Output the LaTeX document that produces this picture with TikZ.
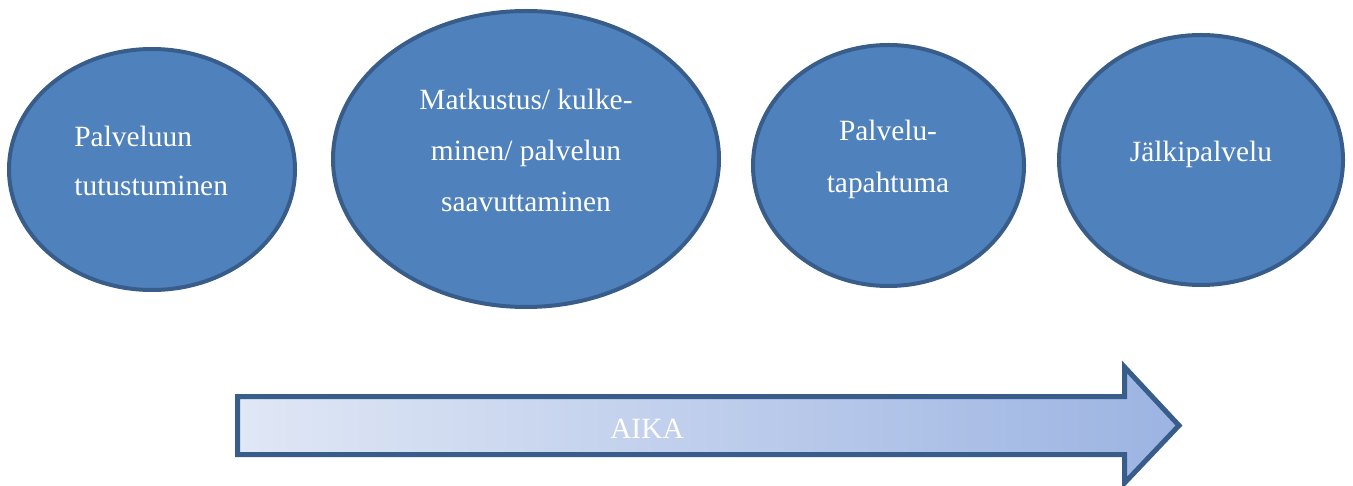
\documentclass[tikz,border=0pt]{standalone}
\usepackage{fontspec}
\setmainfont{Liberation Serif}
\usepackage{tikz}
\usetikzlibrary{shapes.geometric}
\definecolor{cfill}{HTML}{4F81BD}
\definecolor{cedge}{HTML}{385D8A}
\definecolor{clight}{HTML}{E0E7F5}
\definecolor{cdeep}{HTML}{9CB4E2}

\begin{document}
\begin{tikzpicture}[x=0.5pt, y=-0.5pt,
  phase/.style={ellipse, draw=cedge, fill=cfill, line width=2pt, inner sep=0pt},
  lbl/.style={text=white, font=\fontsize{14.7}{25.5}\selectfont, inner sep=0pt, anchor=base}]

\useasboundingbox (0,0) rectangle (1353,486);

% phases
\node[phase, minimum width=143pt, minimum height=120.5pt] (tutust) at (152,169.5) {};
\node[phase, minimum width=193pt, minimum height=148pt] (matka) at (526,159) {};
\node[phase, minimum width=135.5pt, minimum height=120.5pt] (tapahtuma) at (888.5,165.5) {};
\node[phase, minimum width=142pt, minimum height=125pt] (jalki) at (1201,160) {};

% labels (base = last line)
\node[lbl, align=left, anchor=base west, font=\fontsize{14.7}{24.5}\selectfont] (tutustlbl) at (74,196) {Palveluun\\tutustuminen};
\node[lbl, align=center] (matkalbl) at (526,212) {Matkustus/ kulke-\\minen/ palvelun\\saavuttaminen};
\node[lbl, align=center] (tapahtumalbl) at (888,192) {Palvelu-\\tapahtuma};
\node[lbl] (jalkilbl) at (1201,162) {Jälkipalvelu};

% time arrow
\shade[left color=clight, right color=cdeep]
  (237.5,396.5) -- (1124.5,396.5) -- (1124.5,367) -- (1179,425.5)
  -- (1124.5,483) -- (1124.5,454.5) -- (237.5,454.5) -- cycle;
\draw[cedge, line width=2.5pt]
  (237.5,396.5) -- (1124.5,396.5) -- (1124.5,367) -- (1179,425.5)
  -- (1124.5,483) -- (1124.5,454.5) -- (237.5,454.5) -- cycle;
\node[lbl] (aika) at (647,438) {AIKA};

\end{tikzpicture}
\end{document}
